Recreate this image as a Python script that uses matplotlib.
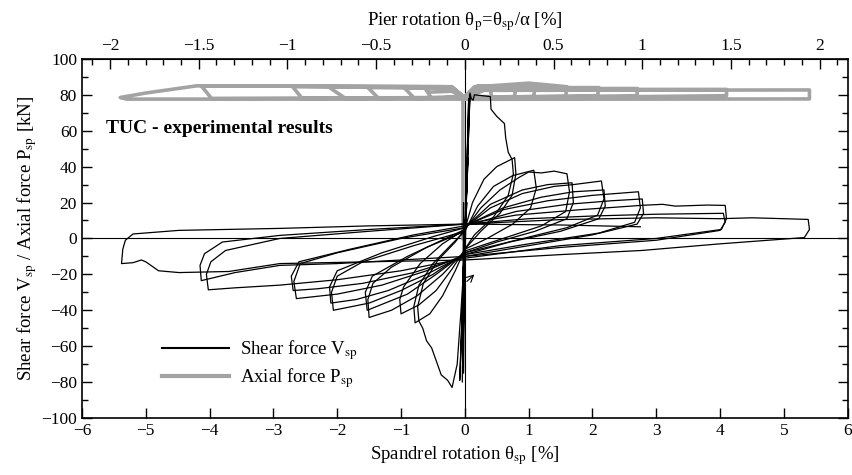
import matplotlib
matplotlib.use("Agg")
import matplotlib.pyplot as plt
from matplotlib.ticker import MultipleLocator

plt.rcParams['font.family'] = ['Liberation Serif', 'DejaVu Serif']
plt.rcParams['mathtext.fontset'] = 'stix'
plt.rcParams['font.size'] = 12

# ratio between spandrel and pier rotation
alpha = 2.78
pier_ticks = [-2, -1.5, -1, -0.5, 0, 0.5, 1, 1.5, 2]

# Shear force V_sp cycles, (theta_sp [%], V [kN])
v_elastic = [(0.0, 0), (0.03, 20), (0.0, 0), (-0.03, -22), (0.0, 0), (0.05, 45), (0.0, 2),
             (-0.05, -45), (0.0, 0), (0.08, 80), (-0.08, -79), (0.0, 0), (0.06, 78),
             (-0.04, -80), (-0.02, 20), (-0.02, -75), (0.0, 0)]
v_cycle_1 = [(0.0, 0), (0.04, 50), (0.08, 81), (0.1, 78), (0.13, 77), (0.15, 80), (0.4, 79),
             (0.41, 72), (0.5, 68), (0.62, 64), (0.64, 56), (0.68, 48), (0.74, 44), (0.76, 36),
             (0.68, 24), (0.45, 12), (0.15, 2), (0.0, -6), (-0.06, -40), (-0.12, -70),
             (-0.2, -83), (-0.27, -79), (-0.37, -76), (-0.45, -68), (-0.52, -61), (-0.6, -57),
             (-0.66, -50), (-0.72, -46), (-0.74, -38), (-0.65, -25), (-0.42, -12),
             (-0.15, -2), (0.0, 5)]
v_cycle_2 = [(0.0, 5), (0.12, 20), (0.3, 33), (0.5, 40), (0.78, 45), (0.8, 36), (0.74, 24),
             (0.55, 14), (0.25, 4), (0.0, -6), (-0.15, -18), (-0.35, -32), (-0.55, -42),
             (-0.78, -47), (-0.8, -38), (-0.72, -26), (-0.5, -14), (-0.2, -3), (0.0, 4)]
v_cycle_3 = [(0.0, 4), (0.2, 18), (0.45, 29), (0.75, 35), (1.08, 38), (1.12, 28), (1.03, 17),
             (0.75, 8), (0.35, 0), (0.0, -6), (-0.2, -17), (-0.45, -29), (-0.72, -37),
             (-1.0, -42), (-1.02, -34), (-0.96, -27), (-0.7, -14), (-0.35, -3), (0.0, 5)]
v_cycle_4 = [(0.0, 5), (0.25, 17), (0.55, 27), (0.85, 34), (1.0, 37), (1.2, 36.5), (1.4, 37.5),
             (1.6, 36), (1.64, 26), (1.58, 15), (1.2, 7), (0.6, 0), (0.0, -7), (-0.35, -20),
             (-0.75, -32), (-1.15, -40), (-1.5, -44), (-1.52, -34), (-1.44, -25),
             (-1.15, -16), (-0.6, -5), (0.0, 4)]
v_cycle_5 = [(0.0, 6), (0.4, 19), (0.9, 27), (1.3, 30), (1.68, 31), (1.7, 20), (1.6, 11),
             (1.1, 4), (0.5, -2), (0.0, -8), (-0.45, -20), (-0.9, -31), (-1.53, -40),
             (-1.56, -30), (-1.45, -21), (-0.9, -10), (-0.3, 0), (0.0, 5)]
v_cycle_6 = [(0.0, 6), (0.4, 17), (0.9, 25), (1.4, 29), (1.7, 30), (2.14, 32), (2.18, 22),
             (2.08, 13), (1.6, 6), (0.8, -1), (0.0, -8), (-0.5, -20), (-1.0, -29),
             (-1.5, -36), (-2.06, -40), (-2.09, -30), (-2.0, -21), (-1.6, -13), (-0.8, -4),
             (0.0, 4)]
v_cycle_7 = [(0.0, 7), (0.6, 17), (1.2, 23), (1.7, 26), (2.18, 27), (2.2, 18), (2.1, 11),
             (1.5, 4), (0.7, -2), (0.0, -9), (-0.6, -20), (-1.2, -29), (-1.7, -34),
             (-2.1, -36), (-2.12, -27), (-2.0, -18), (-1.3, -8), (-0.5, 1), (0.0, 6)]
v_cycle_8 = [(0.0, 7), (0.6, 16), (1.3, 21), (2.0, 24), (2.72, 26), (2.75, 17), (2.66, 9),
             (2.1, 3), (1.0, -3), (0.0, -9), (-0.6, -18), (-1.3, -26), (-2.0, -31),
             (-2.64, -33.5), (-2.68, -24), (-2.58, -14), (-2.0, -8), (-1.0, 0), (0.0, 6)]
v_cycle_9 = [(0.0, 7), (0.8, 15), (1.6, 19), (2.3, 21), (2.78, 22), (2.8, 14), (2.7, 8),
             (2.0, 2), (1.0, -4), (0.0, -10), (-0.8, -19), (-1.6, -25), (-2.3, -28),
             (-2.69, -29), (-2.72, -21), (-2.6, -13), (-1.8, -6), (-0.8, 2), (0.0, 7)]
v_cycle_10 = [(0.0, 8), (0.8, 13), (1.8, 16), (2.8, 18.5), (3.1, 19), (3.3, 18), (3.8, 18.6),
              (4.08, 18.4), (4.1, 11), (4.02, 5), (3.0, 0), (1.5, -4), (0.0, -11),
              (-1.0, -18), (-2.0, -23), (-2.9, -26), (-3.6, -27.5), (-4.02, -28.6),
              (-4.05, -20), (-3.98, -13), (-3.75, -6.7), (-2.9, 0), (-1.5, 4), (0.0, 8)]
v_cycle_11 = [(0.0, 8), (1.0, 11), (2.0, 12.5), (3.0, 13.5), (4.05, 14), (4.08, 9),
              (4.0, 4.5), (3.0, -1), (1.5, -5), (0.0, -10), (-1.0, -12), (-2.0, -14),
              (-2.9, -15), (-3.6, -19), (-4.13, -23.5), (-4.15, -15), (-4.08, -8.5),
              (-3.8, -2), (-2.9, 1.7), (-1.5, 5), (0.0, 8)]
v_cycle_12 = [(0.0, 8), (1.5, 10.5), (3.0, 11.5), (4.0, 11), (4.5, 11.5), (5.0, 11),
              (5.38, 10.6), (5.4, 5), (5.32, 0.5), (4.0, -3), (2.77, -6.7), (1.5, -9),
              (0.0, -12), (-1.5, -13), (-2.9, -14), (-3.7, -18.4), (-4.48, -19), (-4.8, -18),
              (-5.0, -13), (-5.07, -12), (-5.2, -13.5), (-5.38, -14), (-5.36, -6),
              (-5.32, -1), (-5.2, 2.5), (-4.48, 4.5), (-2.9, 5.6), (-1.5, 7), (0.0, 8),
              (1.5, 7.5), (2.75, 6.5)]
shear_cycles = [v_elastic, v_cycle_1, v_cycle_2, v_cycle_3, v_cycle_4, v_cycle_5,
                v_cycle_6, v_cycle_7, v_cycle_8, v_cycle_9, v_cycle_10, v_cycle_11,
                v_cycle_12]

# Axial force P_sp history
p_history = [(-0.03, 0), (-0.03, 78), (0.0, 79), (0.15, 83), (0.4, 82.5), (0.42, 79),
             (0.0, 79), (-0.2, 82), (-0.55, 81.5), (-0.63, 84), (-0.52, 78), (0.0, 79),
             (0.15, 84.5), (0.8, 85), (0.78, 79), (0.0, 78.5), (-0.2, 83.5), (-0.95, 84),
             (-0.79, 78), (0.0, 78.5), (0.2, 85), (1.1, 85), (1.08, 79), (0.0, 78.5),
             (-0.2, 84), (-1.52, 84), (-1.35, 78), (0.0, 78.5), (0.2, 84.5), (1.0, 86.5),
             (1.6, 84.5), (1.58, 79), (0.0, 78.5), (-0.2, 84), (-2.14, 84.5), (-1.87, 78),
             (0.0, 78.5), (0.25, 84), (2.1, 84), (2.08, 79.5), (0.0, 78.5), (-0.2, 84),
             (-2.7, 84.5), (-2.55, 78), (0.0, 78.5), (0.3, 83.5), (2.7, 83.5), (2.7, 79.5),
             (0.0, 78), (0.3, 83), (4.1, 83), (4.1, 79.5), (0.0, 78), (-0.2, 84.5),
             (-4.13, 85), (-3.97, 78), (0.0, 78.5), (0.3, 82.5), (5.4, 82.7), (5.4, 77.7),
             (0.0, 77.5), (-0.3, 84.5), (-4.2, 85), (-4.6, 83), (-5.0, 81), (-5.4, 78.5),
             (-5.3, 77.6), (0.0, 77.6)]

fig = plt.figure(figsize=(8.52, 4.75), dpi=100)
ax = fig.add_axes([0.0962, 0.12, 0.8988, 0.756])

# Plot
px, py = zip(*p_history)
ax.plot(px, py, color='#a3a3a3', linewidth=2.6, solid_joinstyle='round', zorder=2)
for c in shear_cycles:
    x, y = zip(*c)
    ax.plot(x, y, color='black', linewidth=0.9, zorder=3)
ax.axhline(0, color='black', linewidth=0.8, zorder=1)
ax.axvline(0, color='black', linewidth=0.8, zorder=1)
ax.annotate('', xy=(0.18, -19), xytext=(0.0, -25),
            arrowprops=dict(arrowstyle='->', color='black', lw=0.8))

# Legend
ax.plot([], [], color='black', linewidth=1.5, label='Shear force V$_\\mathrm{sp}$')
ax.plot([], [], color='#a3a3a3', linewidth=3, label='Axial force P$_\\mathrm{sp}$')
handles, labels = ax.get_legend_handles_labels()
ax.legend(handles[-2:], labels[-2:], loc='lower left', bbox_to_anchor=(0.082, 0.03),
          frameon=False, handlelength=3.6, handletextpad=0.6, fontsize=13.5,
          labelspacing=0.25)

ax.text(-5.62, 59, 'TUC - experimental results', fontsize=14, fontweight='bold')

# Axes settings
ax.set_xlim(-6, 6)
ax.set_ylim(-100, 100)
ax.xaxis.set_major_locator(MultipleLocator(1))
ax.yaxis.set_major_locator(MultipleLocator(20))
ax.yaxis.set_minor_locator(MultipleLocator(10))
ax.tick_params(which='both', direction='in', right=True, top=False, labelsize=12.5)
ax.tick_params(which='major', length=7, width=1)
ax.tick_params(which='minor', length=4, width=1)
for s in ax.spines.values():
    s.set_linewidth(1.2)

sec = ax.secondary_xaxis('top', functions=(lambda x: x / alpha, lambda x: x * alpha))
sec.set_xticks(pier_ticks)
sec.set_xticklabels([('%g' % v).replace('-', '\u2212') for v in pier_ticks])
sec.xaxis.set_minor_locator(MultipleLocator(0.1))
sec.tick_params(which='both', direction='in', labelsize=12.5)
sec.tick_params(which='major', length=7, width=1)
sec.tick_params(which='minor', length=4, width=1)
sec.set_xlabel('Pier rotation θ$_\\mathrm{p}$=θ$_\\mathrm{sp}$/α [%]', fontsize=13.5, labelpad=9)

ax.set_xlabel('Spandrel rotation θ$_\\mathrm{sp}$ [%]', fontsize=13.5, labelpad=4)
ax.set_ylabel('Shear force V$_\\mathrm{sp}$ / Axial force P$_\\mathrm{sp}$ [kN]', fontsize=13.5, labelpad=2)

fig.savefig('out.png', dpi=100)
